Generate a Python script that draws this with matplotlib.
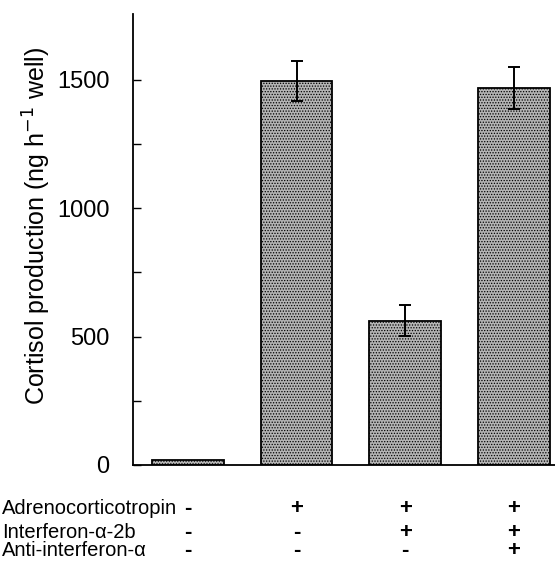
import matplotlib
matplotlib.use('Agg')
import matplotlib.pyplot as plt
from matplotlib.transforms import blended_transform_factory

plt.rcParams['font.family'] = ['Liberation Sans', 'DejaVu Sans']
plt.rcParams['hatch.linewidth'] = 0.6

# Cortisol production per treatment group
cortisol = [18, 1497, 562, 1469]
cortisol_err = [0, 78, 60, 82]
acth = ['-', '+', '+', '+']
ifn = ['-', '-', '+', '+']
anti_ifn = ['-', '-', '-', '+']
row_labels = ['Adrenocorticotropin', 'Interferon-\u03b1-2b', 'Anti-interferon-\u03b1']

fig = plt.figure(figsize=(5.55, 5.62), dpi=100)
ax = fig.add_axes([0.2396, 0.1726, 0.7604, 0.8025])

pos = list(range(len(cortisol)))
ax.bar(pos, cortisol, width=0.66, color='#b4b4b4', edgecolor='black',
       linewidth=1.3, hatch='......')
ax.errorbar(pos[1:], cortisol[1:], yerr=cortisol_err[1:], fmt='none',
            ecolor='black', elinewidth=1.4, capsize=4.5, capthick=1.4)

ax.set_xlim(-0.506, 3.38)
ax.set_ylim(0, 1757)
ax.set_xticks([])
ax.set_yticks([0, 500, 1000, 1500])
ax.set_yticks([250, 750, 1250], minor=True)
ax.tick_params(axis='y', which='both', direction='in', length=6, width=1,
               labelsize=17, pad=17)
ax.spines['top'].set_visible(False)
ax.spines['right'].set_visible(False)
ax.spines['left'].set_linewidth(1.3)
ax.spines['bottom'].set_linewidth(1.3)
ax.set_ylabel('Cortisol production (ng h$^{-1}$ well)', fontsize=18)
ax.yaxis.set_label_coords(-0.19, 0.53)

# treatment table under the bars
trans = blended_transform_factory(ax.transData, fig.transFigure)
rows_y = [1 - 509 / 562, 1 - 532 / 562, 1 - 551 / 562]
for row_y, label, signs in zip(rows_y, row_labels, [acth, ifn, anti_ifn]):
    fig.text(0.003, row_y, label, fontsize=14.5, ha='left', va='center')
    for p, s in zip(pos, signs):
        ax.text(p, row_y, s, transform=trans, fontsize=16, ha='center',
                va='center', fontweight='bold', clip_on=False)

fig.savefig('out.png', dpi=100)
